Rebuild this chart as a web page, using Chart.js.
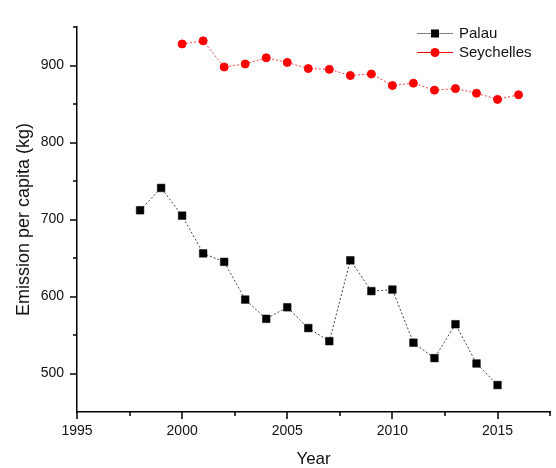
<!DOCTYPE html>
<html>
<head>
<meta charset="utf-8">
<script src="https://cdn.jsdelivr.net/npm/chart.js@4.4.1/dist/chart.umd.min.js"></script>
<style>
html,body{margin:0;padding:0;background:#fff;}
#wrap{width:556px;height:468px;position:relative;}
</style>
</head>
<body>
<div id="wrap"><canvas id="c" width="556" height="468"></canvas></div>
<script>
// ---- data ----
const palauYears = [1998,1999,2000,2001,2002,2003,2004,2005,2006,2007,2008,2009,2010,2011,2012,2013,2014,2015];
const palauValues = [712,741,705,656,645,596,571,586,559,542,647,607,609,540,520,564,513,485];
const seyYears = [2000,2001,2002,2003,2004,2005,2006,2007,2008,2009,2010,2011,2012,2013,2014,2015,2016];
const seyValues = [928,932,898,902,910,904,896,895,887,889,874,877,868,870,864,856,862];
const xMajorTicks = [1995,2000,2005,2010,2015];
const xMinorTicks = [1997.5,2002.5,2007.5,2012.5,2017.5];
const yMajorTicks = [500,600,700,800,900];
const yMinorTicks = [550,650,750,850,950];
const seriesNames = ['Palau','Seychelles'];

const FONT = '"Liberation Sans", Arial, sans-serif';

const toPoints = (xs, ys) => xs.map((x, i) => ({x: x, y: ys[i]}));

const tickPlugin = {
  id: 'minorMajorTicks',
  afterDraw(chart) {
    const ctx = chart.ctx;
    const xs = chart.scales.x, ys = chart.scales.y;
    const axY = chart.chartArea.bottom, axX = chart.chartArea.left;
    ctx.save();
    ctx.strokeStyle = '#000';
    ctx.lineWidth = 1.5;
    ctx.beginPath();
    xMajorTicks.forEach(v => { const p = Math.round(xs.getPixelForValue(v)); ctx.moveTo(p, axY); ctx.lineTo(p, axY + 7); });
    xMinorTicks.forEach(v => { const p = Math.round(xs.getPixelForValue(v)); ctx.moveTo(p, axY); ctx.lineTo(p, axY + 4); });
    yMajorTicks.forEach(v => { const p = Math.round(ys.getPixelForValue(v)); ctx.moveTo(axX, p); ctx.lineTo(axX - 7, p); });
    yMinorTicks.forEach(v => { const p = Math.round(ys.getPixelForValue(v)); ctx.moveTo(axX, p); ctx.lineTo(axX - 4, p); });
    ctx.stroke();
    ctx.restore();
  }
};

const legendPlugin = {
  id: 'originLegend',
  afterDraw(chart) {
    const ctx = chart.ctx;
    const lineColors = ['#808080', '#ff0000'];
    const x0 = 417, x1 = 453, tx = 459;
    const rows = [33, 52];
    ctx.save();
    chart.data.datasets.forEach((ds, i) => {
      const y = rows[i];
      ctx.strokeStyle = lineColors[i];
      ctx.lineWidth = 1.2;
      ctx.beginPath(); ctx.moveTo(x0, y + 0.5); ctx.lineTo(x1, y + 0.5); ctx.stroke();
      ctx.fillStyle = ds.pointBackgroundColor;
      ctx.beginPath();
      const cx = (x0 + x1) / 2;
      if (ds.pointStyle === 'rect') ctx.rect(cx - 4, y - 3.5, 8, 8);
      else ctx.arc(cx, y + 0.5, 4.5, 0, Math.PI * 2);
      ctx.fill();
      ctx.fillStyle = '#111';
      ctx.font = '15px ' + FONT;
      ctx.textBaseline = 'middle';
      ctx.textAlign = 'left';
      ctx.fillText(ds.label, tx, y + 1);
    });
    ctx.restore();
  }
};

new Chart(document.getElementById('c'), {
  type: 'scatter',
  data: {
    datasets: [
      {
        label: seriesNames[0],
        data: toPoints(palauYears, palauValues),
        showLine: true,
        borderColor: '#444444',
        borderWidth: 1,
        borderDash: [2, 2],
        pointStyle: 'rect',
        pointRadius: 5.4,
        pointBorderWidth: 0.5,
        pointBackgroundColor: '#000000',
        pointBorderColor: '#000000'
      },
      {
        label: seriesNames[1],
        data: toPoints(seyYears, seyValues),
        showLine: true,
        borderColor: '#ff4040',
        borderWidth: 1,
        borderDash: [2, 2],
        pointStyle: 'circle',
        pointRadius: 4,
        pointBorderWidth: 1,
        pointBackgroundColor: '#ff0000',
        pointBorderColor: '#ff0000'
      }
    ]
  },
  options: {
    responsive: false,
    animation: false,
    layout: {padding: {top: 27, right: 5, left: 0, bottom: 0}},
    plugins: {legend: {display: false}, tooltip: {enabled: false}},
    scales: {
      x: {
        type: 'linear',
        min: 1995,
        max: 2017.5,
        afterBuildTicks: s => { s.ticks = xMajorTicks.map(v => ({value: v})); },
        afterFit: s => { s.height = 56; },
        grid: {display: false, drawTicks: true, tickLength: 7},
        border: {display: true, color: '#000', width: 1.5},
        ticks: {padding: 4, color: '#111', font: {family: FONT, size: 14}, maxRotation: 0, callback: v => String(v)},
        title: {display: true, text: 'Year', color: '#111', font: {family: FONT, size: 17, lineHeight: 1}, padding: {top: 0, bottom: 0}}
      },
      y: {
        min: 450,
        max: 950,
        afterBuildTicks: s => { s.ticks = yMajorTicks.map(v => ({value: v})); },
        afterFit: s => { s.width = 77; },
        grid: {display: false, drawTicks: true, tickLength: 7},
        border: {display: true, color: '#000', width: 1.5},
        ticks: {padding: 6, color: '#111', font: {family: FONT, size: 14}, callback: v => String(v)},
        title: {display: true, text: 'Emission per capita (kg)', color: '#111', font: {family: FONT, size: 18, lineHeight: 1}, padding: {top: 15, bottom: 0}}
      }
    }
  },
  plugins: [tickPlugin, legendPlugin]
});
</script>
</body>
</html>
